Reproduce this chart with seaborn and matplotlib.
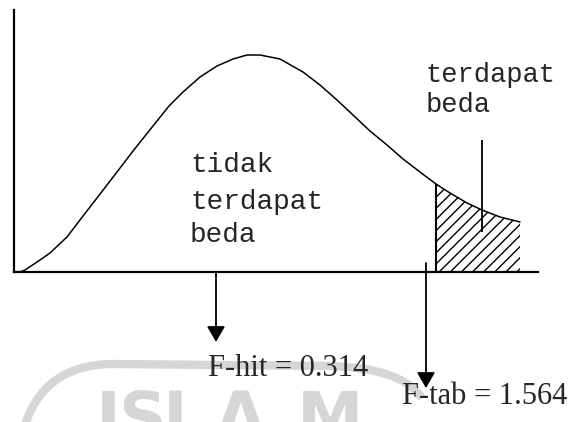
import seaborn as sns
import matplotlib.pyplot as plt
from matplotlib.path import Path
from matplotlib.patches import PathPatch

# kurva distribusi F (skematik): posisi sepanjang sumbu dan tinggi kurva
curve_x = [6, 11, 26, 36, 53, 69, 83, 103, 119, 139, 155, 169, 186, 203, 219,
           233, 246, 266, 289, 306, 323, 339, 356, 373, 389, 406, 422, 436,
           453, 468, 486, 506]
curve_h = [0, 2, 12, 19, 35, 56, 74, 100, 121, 146, 166, 180, 195, 206, 213,
           217, 217, 213, 200, 187, 172, 157, 141, 127, 113, 100, 88, 79,
           69, 62, 55, 50]

f_crit_pos = 422      # awal daerah "terdapat beda"
f_hit_pos = 202       # posisi panah F-hit
f_tab_pos = 412       # posisi panah F-tab
pointer_pos = 468     # garis penunjuk label kanan

label_tidak = ['tidak', 'terdapat', 'beda']
label_beda = ['terdapat', 'beda']
f_hit_text = 'F-hit = 0.314'
f_tab_text = 'F-tab = 1.564'
watermark = ['I', 'S', 'L', 'A', 'M']

sns.set_style('white')
plt.rcParams['font.family'] = ['DejaVu Sans']
plt.rcParams['hatch.linewidth'] = 1.0

fig = plt.figure(figsize=(5.76, 4.22), dpi=100)

# lapisan belakang untuk watermark (koordinat piksel)
bg = fig.add_axes([0, 0, 1, 1])
bg.set_xlim(0, 576)
bg.set_ylim(422, 0)
bg.axis('off')
wm_col = '#d6d6d6'
arc = Path([(23, 432), (40, 366), (110, 364), (330, 366), (402, 368), (422, 398)],
           [Path.MOVETO, Path.CURVE3, Path.CURVE3, Path.LINETO, Path.CURVE3, Path.CURVE3])
bg.add_patch(PathPatch(arc, facecolor='none', edgecolor=wm_col, lw=6))
for ch, xc in zip(watermark, [108, 142, 184, 240, 330]):
    bg.text(xc, 388, ch, fontsize=48, fontweight='bold', color=wm_col,
            ha='center', va='top')

# sumbu utama
ax = fig.add_axes([14 / 576, 150 / 422, 524 / 576, 262 / 422])
ax.patch.set_alpha(0)
sns.lineplot(x=curve_x, y=curve_h, ax=ax, color='black', lw=1.1)
ax.set_xlim(0, 524)
ax.set_ylim(0, 262)
ax.set_xticks([])
ax.set_yticks([])
ax.set_xlabel('')
ax.set_ylabel('')
sns.despine(ax=ax)
for s in ['left', 'bottom']:
    ax.spines[s].set_linewidth(1.6)
    ax.spines[s].set_color('black')

# daerah kritis (diarsir)
shade_x = [x for x in curve_x if x >= f_crit_pos]
shade_h = [h for x, h in zip(curve_x, curve_h) if x >= f_crit_pos]
ax.fill_between(shade_x, 0, shade_h, facecolor='none', edgecolor='black',
                hatch='///', linewidth=0)
ax.vlines(f_crit_pos, 0, shade_h[0], color='black', lw=1.5)
ax.vlines(pointer_pos, 40, 132, color='black', lw=1.3)

# label
mono = ['Liberation Mono', 'DejaVu Sans Mono']
for txt, yy in zip(label_tidak, [107, 70, 37]):
    ax.text(176, yy, txt, family=mono, fontsize=20, va='center', ha='left')
for txt, yy in zip(label_beda, [197, 167]):
    ax.text(412, yy, txt, family=mono, fontsize=19.5, va='center', ha='left')

arrow = dict(arrowstyle='-|>,head_width=0.55,head_length=0.95', color='black',
             lw=1.3, shrinkA=0, shrinkB=0, mutation_scale=10)
ax.annotate('', xy=(f_hit_pos, -70), xytext=(f_hit_pos, -1),
            arrowprops=arrow, annotation_clip=False)
ax.annotate('', xy=(f_tab_pos, -116), xytext=(f_tab_pos, 9),
            arrowprops=arrow, annotation_clip=False)

serif = ['Liberation Serif', 'DejaVu Serif']
ax.text(194, -96, f_hit_text, family=serif, fontsize=22, va='center', ha='left')
ax.text(388, -125, f_tab_text, family=serif, fontsize=22, va='center', ha='left')

fig.savefig('out.png', dpi=100)
